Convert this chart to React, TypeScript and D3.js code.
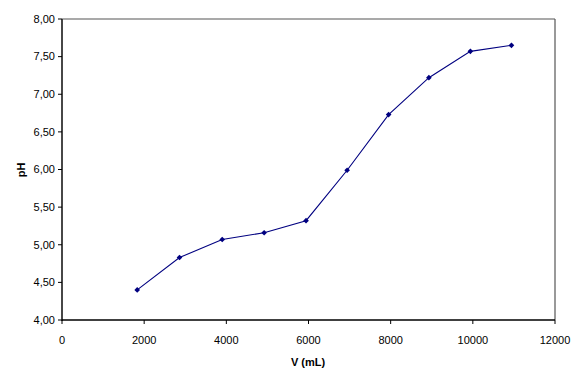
import React from "react";
import * as d3 from "d3";

// Titration curve: pH vs added volume
const volumes = [1830, 2860, 3900, 4920, 5940, 6940, 7950, 8930, 9940, 10940];
const phValues = [4.4, 4.83, 5.07, 5.16, 5.32, 5.99, 6.73, 7.22, 7.57, 7.65];
const xTicks = [0, 2000, 4000, 6000, 8000, 10000, 12000];
const yTicks = [4, 4.5, 5, 5.5, 6, 6.5, 7, 7.5, 8];
const xTitle = "V (mL)";
const yTitle = "pH";

const W = 572;
const H = 370;
const plot = { left: 62, right: 555, top: 19, bottom: 320 };
const font = "'Liberation Sans', Arial, sans-serif";

export default function App() {
  const x = d3.scaleLinear().domain([0, 12000]).range([plot.left, plot.right]);
  const y = d3.scaleLinear().domain([4, 8]).range([plot.bottom, plot.top]);
  const fmt = (v: number) => d3.format(".2f")(v).replace(".", ",");

  const pts = volumes.map((v, i) => [x(v), y(phValues[i])] as [number, number]);
  const line = d3.line()(pts) || "";
  // square marker turned 45° gives an even diamond
  const marker = d3.symbol().type(d3.symbolSquare).size(16)() || "";

  return (
    <svg
      width={W}
      height={H}
      style={{ position: "absolute", left: 0, top: 0, background: "#fff" }}
      fontFamily={font}
    >
      {/* frame */}
      <line x1={plot.left} x2={plot.right} y1={plot.top} y2={plot.top} stroke="#555" strokeWidth={1.2} />
      <line x1={plot.right} x2={plot.right} y1={plot.top} y2={plot.bottom} stroke="#555" strokeWidth={1.2} />
      <line x1={plot.left} x2={plot.left} y1={plot.top} y2={plot.bottom + 1} stroke="#333" strokeWidth={1.8} />
      <line x1={plot.left} x2={plot.right} y1={plot.bottom} y2={plot.bottom} stroke="#000" strokeWidth={1.5} />

      {/* y axis */}
      {yTicks.map((t) => (
        <g key={"y" + t}>
          <line x1={plot.left - 4} x2={plot.left} y1={y(t)} y2={y(t)} stroke="#000" strokeWidth={1} />
          <text x={plot.left - 7} y={y(t)} dy="0.35em" textAnchor="end" fontSize={11} fill="#000">
            {fmt(t)}
          </text>
        </g>
      ))}

      {/* x axis */}
      {xTicks.map((t) => (
        <g key={"x" + t}>
          <line x1={x(t)} x2={x(t)} y1={plot.bottom} y2={plot.bottom + 4} stroke="#000" strokeWidth={1} />
          <text x={x(t)} y={plot.bottom + 24} textAnchor="middle" fontSize={11} fill="#000">
            {t}
          </text>
        </g>
      ))}

      <text x={308} y={366} textAnchor="middle" fontSize={11} fontWeight="bold">
        {xTitle}
      </text>
      <text
        transform="translate(25,170) rotate(-90)"
        textAnchor="middle"
        fontSize={11}
        fontWeight="bold"
      >
        {yTitle}
      </text>

      {/* series */}
      <path d={line} fill="none" stroke="#000080" strokeWidth={1.1} />
      {pts.map(([px, py], i) => (
        <path key={i} d={marker} transform={`translate(${px},${py}) rotate(45)`} fill="#000080" />
      ))}
    </svg>
  );
}
